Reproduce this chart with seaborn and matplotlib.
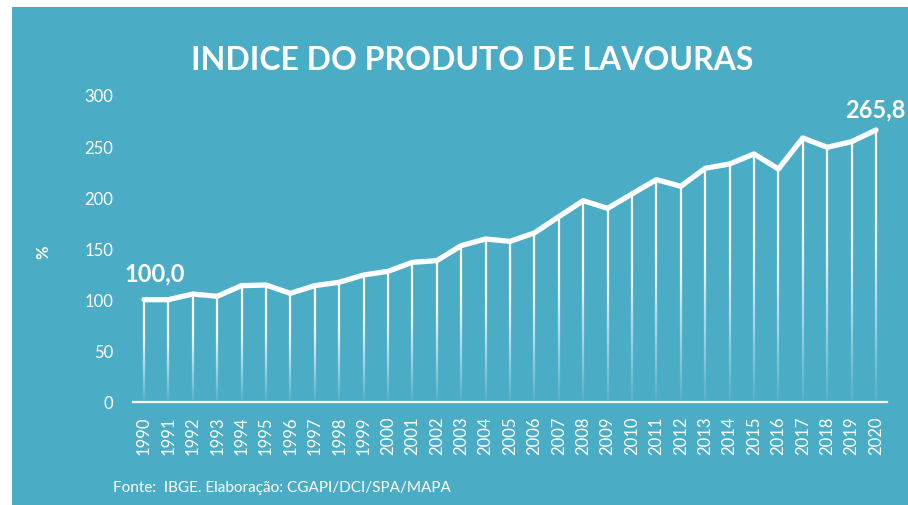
import numpy as np
import pandas as pd
import matplotlib
matplotlib.use('Agg')
import matplotlib.pyplot as plt
import seaborn as sns
from matplotlib.collections import LineCollection
from matplotlib.patches import Rectangle

# dados (índice 1990 = 100)
anos = [str(a) for a in range(1990, 2021)]
indice = [100.0, 100.0, 105.5, 103.3, 113.7, 114.3, 106.2, 113.7, 117.0, 124.1,
          127.7, 136.5, 138.1, 152.8, 159.3, 157.0, 165.2, 181.1, 196.7, 189.3,
          203.3, 217.3, 210.8, 228.4, 232.6, 242.4, 227.7, 258.0, 248.9, 254.4,
          265.8]
y_ticks = [0, 50, 100, 150, 200, 250, 300]

FUNDO = '#4BACC6'
BRANCO = 'white'

sns.set_theme(style='white')
plt.rcParams['font.family'] = ['Lato', 'DejaVu Sans']

df = pd.DataFrame({'ano': anos, 'indice': indice})
df['pos'] = np.arange(len(df))

fig = plt.figure(figsize=(9.08, 5.06), dpi=100)
fig.patch.set_facecolor('white')
# painel azul (com margem branca no topo e à esquerda)
fig.add_artist(Rectangle((12 / 908, 0), 1 - 12 / 908, 1 - 8 / 506,
                         transform=fig.transFigure, facecolor=FUNDO,
                         edgecolor='none', zorder=0))

ax = fig.add_axes([133 / 908, 103 / 506, (887 - 133) / 908, (410 - 103) / 506])
ax.set_facecolor('none')

# linhas verticais com degradê (branco em cima, transparente embaixo)
segs, cores = [], []
n = 40
for x, v in zip(df['pos'], df['indice']):
    ys = np.linspace(0, v, n + 1)
    for i in range(n):
        segs.append([(x, ys[i]), (x, ys[i + 1])])
        t = (i + 0.5) / n
        alpha = min(1.0, 0.05 + 1.4 * t)
        cores.append((1, 1, 1, alpha))
ax.add_collection(LineCollection(segs, colors=cores, linewidths=1.6, zorder=2))

sns.lineplot(data=df, x='pos', y='indice', ax=ax, color=BRANCO, linewidth=3.8,
             zorder=3, solid_joinstyle='round', solid_capstyle='round')

ax.set_xlim(-0.45, len(df) - 1 + 0.45)
ax.set_ylim(0, 300)
ax.set_yticks(y_ticks)
ax.set_yticklabels([str(t) for t in y_ticks], color=BRANCO, fontsize=12)
ax.set_xticks(df['pos'])
ax.set_xticklabels(anos, rotation=90, color=BRANCO, fontsize=12)
ax.tick_params(axis='y', length=0, pad=14)
ax.tick_params(axis='x', length=0, pad=10)
ax.set_xlabel('')
ax.set_ylabel('%', color=BRANCO, fontsize=12, fontweight='bold')
ax.yaxis.set_label_coords(-0.108, 0.49)
for s in ['top', 'right', 'left']:
    ax.spines[s].set_visible(False)
ax.spines['bottom'].set_color(BRANCO)
ax.spines['bottom'].set_linewidth(1.6)
ax.spines['bottom'].set_zorder(4)

# rótulos do primeiro e último valor
ax.annotate(f"{indice[0]:.1f}".replace('.', ','), (0, indice[0]),
            xytext=(-14, 14), textcoords='offset points', color=BRANCO,
            fontsize=17, fontweight='bold')
ax.annotate(f"{indice[-1]:.1f}".replace('.', ','), (len(df) - 1, indice[-1]),
            xytext=(-22, 9.5), textcoords='offset points', color=BRANCO,
            fontsize=17, fontweight='bold')

fig.text(472 / 908, 1 - 60 / 506, 'INDICE DO PRODUTO DE LAVOURAS', ha='center',
         va='center', color=BRANCO, fontsize=23, fontweight='bold')
fig.text(113 / 908, 1 - 488 / 506, 'Fonte:  IBGE. Elaboração: CGAPI/DCI/SPA/MAPA',
         ha='left', va='center', color=BRANCO, fontsize=11)

fig.savefig('out.png', dpi=100, facecolor=fig.get_facecolor())
